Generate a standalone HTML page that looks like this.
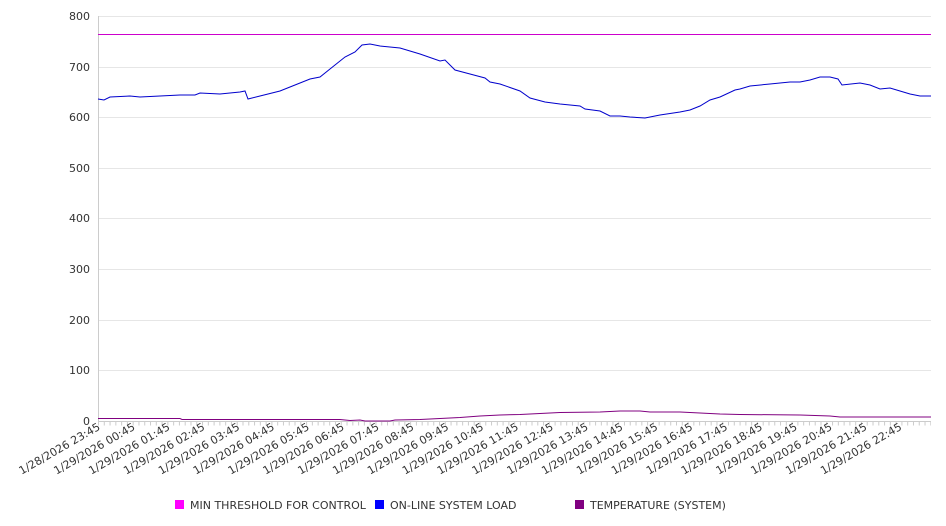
<!DOCTYPE html>
<html><head><style>body{margin:0;background:#fff}svg{display:block;font-family:"DejaVu Sans","Liberation Sans",sans-serif}</style></head><body>
<svg width="946" height="526" viewBox="0 0 946 526" xmlns="http://www.w3.org/2000/svg">
<g stroke="#e6e6e6" stroke-width="1">
<line x1="98" x2="931" y1="16.5" y2="16.5"/><line x1="98" x2="931" y1="67.5" y2="67.5"/><line x1="98" x2="931" y1="117.5" y2="117.5"/><line x1="98" x2="931" y1="168.5" y2="168.5"/><line x1="98" x2="931" y1="218.5" y2="218.5"/><line x1="98" x2="931" y1="269.5" y2="269.5"/><line x1="98" x2="931" y1="320.5" y2="320.5"/><line x1="98" x2="931" y1="370.5" y2="370.5"/>
</g>
<line x1="98.5" x2="98.5" y1="16" y2="421" stroke="#ccc"/>
<line x1="98" x2="931" y1="421.5" y2="421.5" stroke="#ccc"/>
<line x1="98" x2="931" y1="423.5" y2="423.5" stroke="#ccc" stroke-width="4" stroke-dasharray="1 4.78"/>
<g font-size="11" fill="#333" text-anchor="end">
<text x="90" y="20">800</text><text x="90" y="71">700</text><text x="90" y="121">600</text><text x="90" y="172">500</text><text x="90" y="222">400</text><text x="90" y="273">300</text><text x="90" y="324">200</text><text x="90" y="374">100</text><text x="90" y="425">0</text>
</g>
<line x1="98" x2="931" y1="34.5" y2="34.5" stroke="#cc00cc" stroke-width="1"/>
<polyline fill="none" stroke="#0000cc" stroke-width="1" points="98,99 104,100 110,97 130,96 140,97 160,96 180,95 195,95 200,93 220,94 240,92 245,91 248,99 260,96 280,91 290,87 310,79 320,77 330,69 345,57 355,52 362,45 370,44 380,46 400,48 410,51 420,54 440,61 445,60 455,70 470,74 485,78 490,82 500,84 520,91 530,98 545,102 560,104 580,106 585,109 600,111 610,116 620,116 630,117 645,118 660,115 680,112 690,110 700,106 710,100 720,97 735,90 740,89 750,86 770,84 790,82 800,82 810,80 820,77 830,77 838,79 842,85 860,83 870,85 880,89 890,88 900,91 910,94 920,96 931,96"/>
<polyline fill="none" stroke="#800080" stroke-width="1" points="98,418.5 180,418.5 182,419.5 340,419.5 350,420.5 360,420 365,421 390,421 395,420 420,419.5 440,418.5 460,417.5 480,416 500,415 520,414.5 540,413.5 560,412.5 600,412 620,411 640,411 650,412 680,412 700,413 720,414 740,414.5 800,415 830,416 840,417 931,417"/>
<g font-size="11" fill="#333" text-anchor="end">
<text transform="translate(101,429) rotate(-30)">1/28/2026 23:45</text>
<text transform="translate(135.85,429) rotate(-30)">1/29/2026 00:45</text>
<text transform="translate(170.7,429) rotate(-30)">1/29/2026 01:45</text>
<text transform="translate(205.55,429) rotate(-30)">1/29/2026 02:45</text>
<text transform="translate(240.4,429) rotate(-30)">1/29/2026 03:45</text>
<text transform="translate(275.25,429) rotate(-30)">1/29/2026 04:45</text>
<text transform="translate(310.1,429) rotate(-30)">1/29/2026 05:45</text>
<text transform="translate(344.95,429) rotate(-30)">1/29/2026 06:45</text>
<text transform="translate(379.8,429) rotate(-30)">1/29/2026 07:45</text>
<text transform="translate(414.65,429) rotate(-30)">1/29/2026 08:45</text>
<text transform="translate(449.5,429) rotate(-30)">1/29/2026 09:45</text>
<text transform="translate(484.35,429) rotate(-30)">1/29/2026 10:45</text>
<text transform="translate(519.2,429) rotate(-30)">1/29/2026 11:45</text>
<text transform="translate(554.05,429) rotate(-30)">1/29/2026 12:45</text>
<text transform="translate(588.9,429) rotate(-30)">1/29/2026 13:45</text>
<text transform="translate(623.75,429) rotate(-30)">1/29/2026 14:45</text>
<text transform="translate(658.6,429) rotate(-30)">1/29/2026 15:45</text>
<text transform="translate(693.45,429) rotate(-30)">1/29/2026 16:45</text>
<text transform="translate(728.3,429) rotate(-30)">1/29/2026 17:45</text>
<text transform="translate(763.15,429) rotate(-30)">1/29/2026 18:45</text>
<text transform="translate(798,429) rotate(-30)">1/29/2026 19:45</text>
<text transform="translate(832.85,429) rotate(-30)">1/29/2026 20:45</text>
<text transform="translate(867.7,429) rotate(-30)">1/29/2026 21:45</text>
<text transform="translate(902.55,429) rotate(-30)">1/29/2026 22:45</text>
</g>
<g font-size="11" fill="#333">
<rect x="175" y="500" width="9" height="9" fill="#ff00ff"/><text x="190" y="509">MIN THRESHOLD FOR CONTROL</text>
<rect x="375" y="500" width="9" height="9" fill="#0000ff"/><text x="390" y="509">ON-LINE SYSTEM LOAD</text>
<rect x="575" y="500" width="9" height="9" fill="#800080"/><text x="590" y="509">TEMPERATURE (SYSTEM)</text>
</g>
</svg>
</body></html>
